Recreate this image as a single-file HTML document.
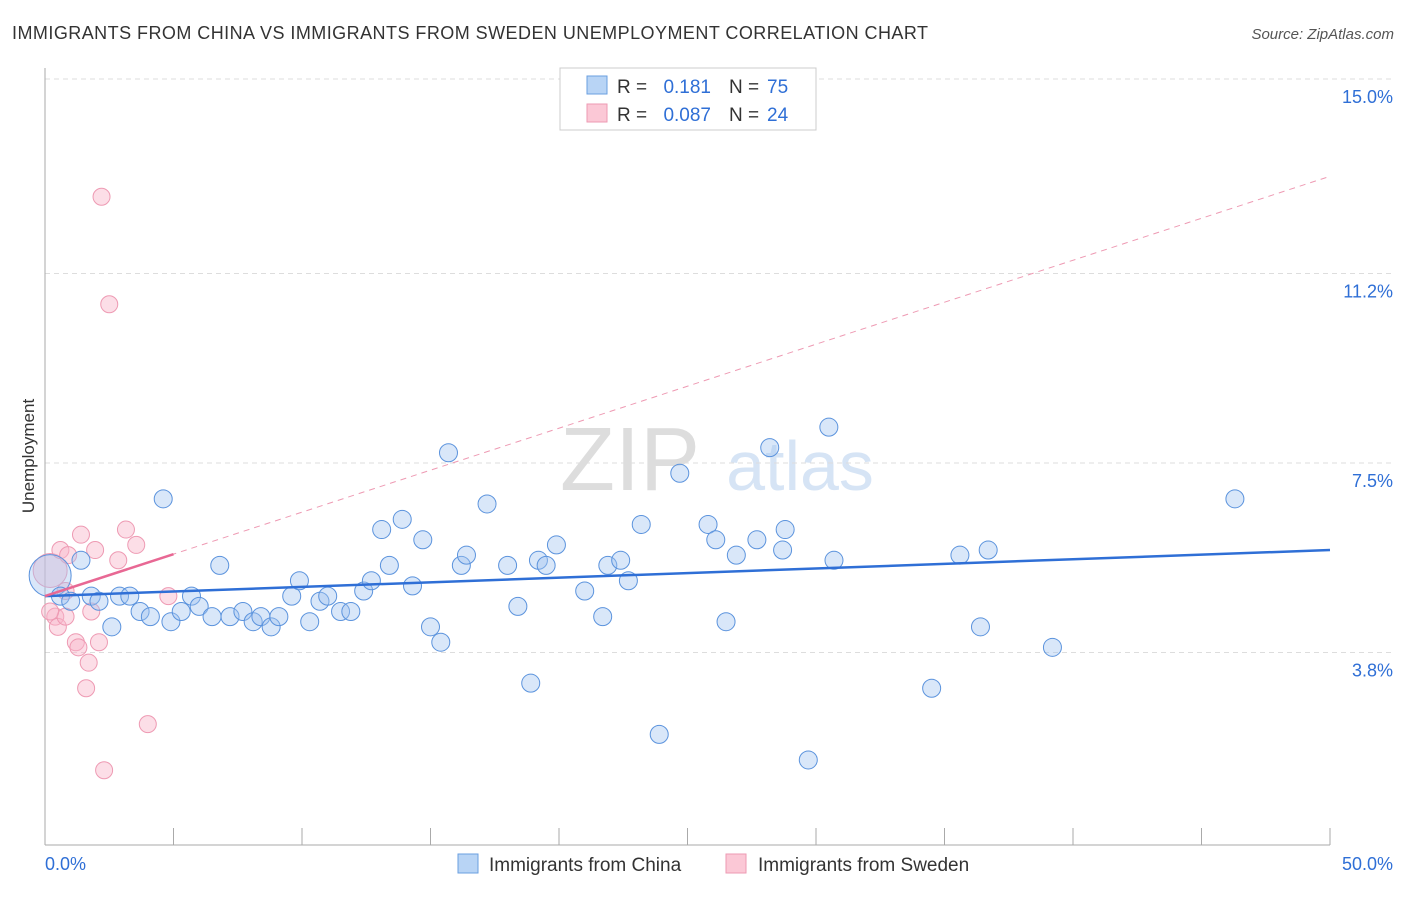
<!DOCTYPE html>
<html><head><meta charset="utf-8"><style>
body{margin:0;background:#fff;font-family:"Liberation Sans",sans-serif}
svg text{font-family:"Liberation Sans",sans-serif}
</style></head><body>
<svg id="c" width="1406" height="892">
<text x="12" y="39" font-size="18" fill="#333" textLength="916">IMMIGRANTS FROM CHINA VS IMMIGRANTS FROM SWEDEN UNEMPLOYMENT CORRELATION CHART</text>
<text x="1394" y="39" font-size="15" fill="#555" font-style="italic" text-anchor="end">Source: ZipAtlas.com</text>
<text x="34" y="456" font-size="17" fill="#333" transform="rotate(-90 34 456)" text-anchor="middle">Unemployment</text>
<text x="630" y="490" font-size="90" fill="#ddd" font-family="Liberation Serif" text-anchor="middle">ZIP</text>
<text x="800" y="490" font-size="70" fill="#d6e4f5" text-anchor="middle">atlas</text>
<g id="grid"></g><g id="marks"></g>
<g>
<rect x="560" y="68" width="256" height="62" fill="#fff" stroke="#ccc"/>
<rect x="587" y="76" width="20" height="18" fill="#b8d4f5" stroke="#6a9fe0"/>
<rect x="587" y="104" width="20" height="18" fill="#fbc8d6" stroke="#ee9ab3"/>
<text x="617" y="93" font-size="19" fill="#333">R =</text>
<text x="711" y="93" font-size="19" fill="#2f6fd6" text-anchor="end">0.181</text>
<text x="729" y="93" font-size="19" fill="#333">N =</text>
<text x="767" y="93" font-size="19" fill="#2f6fd6">75</text>
<text x="617" y="121" font-size="19" fill="#333">R =</text>
<text x="711" y="121" font-size="19" fill="#2f6fd6" text-anchor="end">0.087</text>
<text x="729" y="121" font-size="19" fill="#333">N =</text>
<text x="767" y="121" font-size="19" fill="#2f6fd6">24</text>
</g>
<g>
<rect x="458" y="854" width="20" height="19" fill="#b8d4f5" stroke="#6a9fe0"/>
<text x="489" y="871" font-size="19" fill="#333">Immigrants from China</text>
<rect x="726" y="854" width="20" height="19" fill="#fbc8d6" stroke="#ee9ab3"/>
<text x="758" y="871" font-size="19" fill="#333">Immigrants from Sweden</text>
</g>
</svg>
<script>
const yTicks=[3.8,7.5,11.2,15.0];
const yTickLabels=["3.8%","7.5%","11.2%","15.0%"];
const chinaX=[0.2,0.6,1.0,1.4,1.8,2.1,2.6,2.9,3.3,3.7,4.1,4.6,4.9,5.3,5.7,6.0,6.5,6.8,7.2,7.7,8.1,8.4,8.8,9.1,9.6,9.9,10.3,10.7,11.0,11.5,11.9,12.4,12.7,13.1,13.4,13.9,14.3,14.7,15.0,15.4,15.7,16.2,16.4,17.2,18.0,18.4,18.9,19.2,19.5,19.9,21.0,21.7,21.9,22.4,22.7,23.2,23.9,24.7,25.8,26.1,26.5,26.9,27.7,28.2,28.7,28.8,29.7,30.5,30.7,34.5,35.6,36.4,36.7,39.2,46.3];
const chinaY=[5.3,4.9,4.8,5.6,4.9,4.8,4.3,4.9,4.9,4.6,4.5,6.8,4.4,4.6,4.9,4.7,4.5,5.5,4.5,4.6,4.4,4.5,4.3,4.5,4.9,5.2,4.4,4.8,4.9,4.6,4.6,5.0,5.2,6.2,5.5,6.4,5.1,6.0,4.3,4.0,7.7,5.5,5.7,6.7,5.5,4.7,3.2,5.6,5.5,5.9,5.0,4.5,5.5,5.6,5.2,6.3,2.2,7.3,6.3,6.0,4.4,5.7,6.0,7.8,5.8,6.2,1.7,8.2,5.6,3.1,5.7,4.3,5.8,3.9,6.8];
const swedenX=[0.2,0.4,0.5,0.6,0.8,0.9,1.2,1.3,1.4,1.6,1.7,1.8,1.95,2.1,2.2,2.3,2.5,2.85,3.15,3.55,4.0,4.8,0.2,0.8];
const swedenY=[5.4,4.5,4.3,5.8,4.5,5.7,4.0,3.9,6.1,3.1,3.6,4.6,5.8,4.0,12.7,1.5,10.6,5.6,6.2,5.9,2.4,4.9,4.6,5.0];
const chinaFit=[4.9,5.8], swedenFit=[4.9,13.1];
const NS="http://www.w3.org/2000/svg";
const X=v=>45+v/50*1285, Y=v=>847-v*51.2;
function mk(t,a,p){const e=document.createElementNS(NS,t);for(const k in a)e.setAttribute(k,a[k]);p.appendChild(e);return e;}
const g=document.getElementById('grid'), m=document.getElementById('marks');
yTicks.forEach((t,i)=>{
 const l=mk('line',{x1:45,x2:1394,y1:Y(t),y2:Y(t),stroke:'#ddd','stroke-dasharray':'5,4'},g);
 
 
 const tx=mk('text',{x:1393,y:Y(t)+24,'font-size':18,fill:'#2f6fd6','text-anchor':'end'},g);tx.textContent=yTickLabels[i];
 
 
});
const ax=mk('line',{x1:45,x2:1330,y1:845,y2:845,stroke:'#aaa'},g);


const ay=mk('line',{x1:45,x2:45,y1:68,y2:845,stroke:'#aaa'},g);


for(let i=1;i<=10;i++){const t=mk('line',{x1:X(i*5),x2:X(i*5),y1:828,y2:845,stroke:'#aaa'},g);
 
 }
[["0.0%",45,'start'],["50.0%",1393,'end']].forEach(d=>{const t=mk('text',{x:d[1],y:870,'font-size':18,fill:'#2f6fd6','text-anchor':d[2]},g);t.textContent=d[0];
 
 });
swedenX.forEach((x,i)=>{const c=mk('circle',{cx:X(x),cy:Y(swedenY[i]),r:i==0?17:8.5,fill:'rgba(248,182,202,0.45)',stroke:'#ee9ab3','stroke-width':1},m);
 
 });
chinaX.forEach((x,i)=>{const c=mk('circle',{cx:X(x),cy:Y(chinaY[i]),r:i==0?21:9,fill:'rgba(160,196,240,0.4)',stroke:'#5b93dd','stroke-width':1},m);
 
 });
const bl=mk('line',{x1:X(0),y1:Y(chinaFit[0]),x2:X(50),y2:Y(chinaFit[1]),stroke:'#2f6fd6','stroke-width':2.5},m);


const pd=mk('line',{x1:X(0),y1:Y(swedenFit[0]),x2:X(50),y2:Y(swedenFit[1]),stroke:'#ee9ab3','stroke-width':1,'stroke-dasharray':'6,5'},m);


const ps=mk('line',{x1:X(0),y1:Y(swedenFit[0]),x2:X(5),y2:Y(swedenFit[0]+(swedenFit[1]-swedenFit[0])*0.1),stroke:'#e86894','stroke-width':2.5},m);


</script>
</body></html>
